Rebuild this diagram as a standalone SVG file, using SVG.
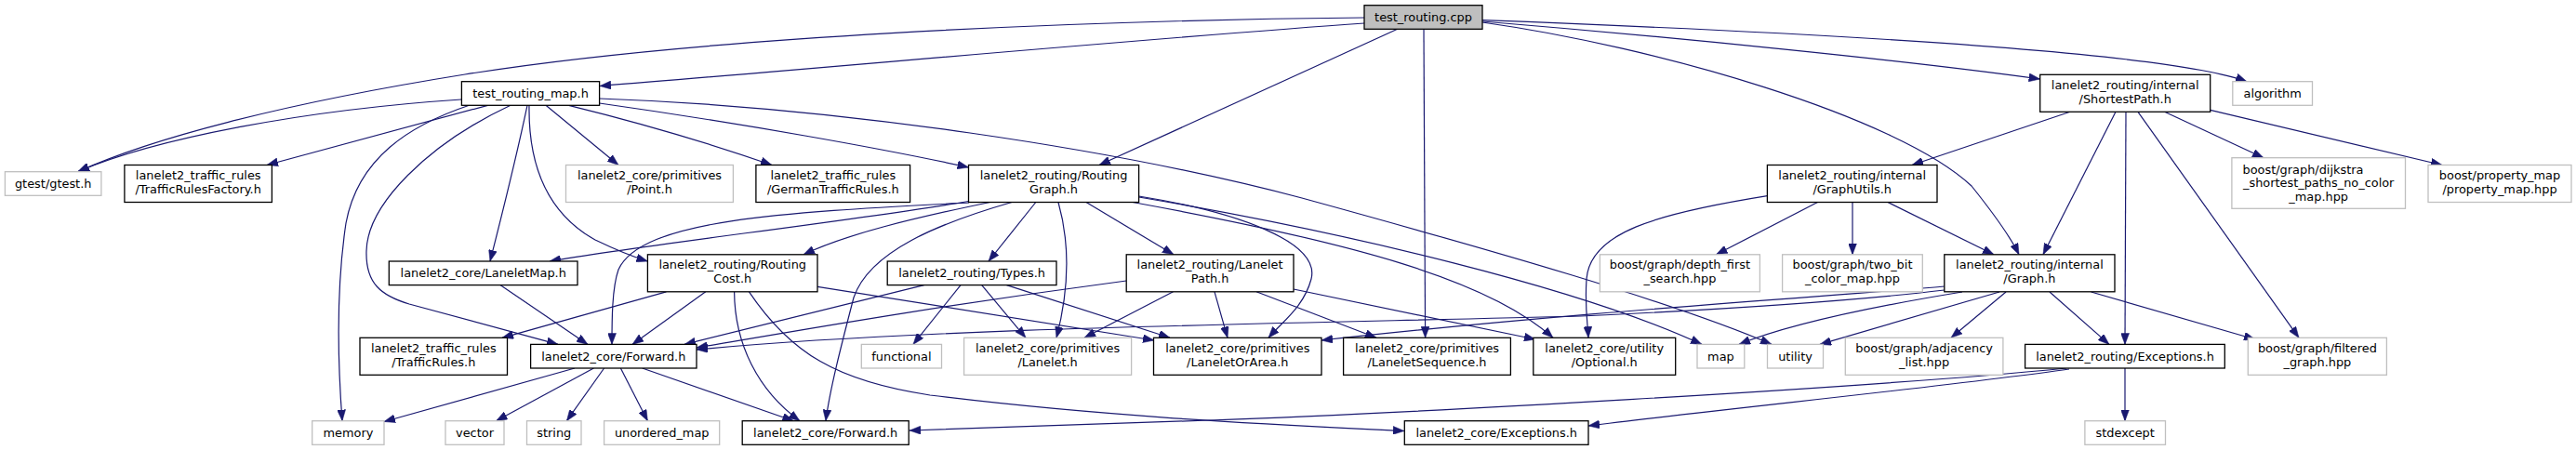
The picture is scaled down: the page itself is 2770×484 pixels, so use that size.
<svg xmlns="http://www.w3.org/2000/svg" width="2770" height="484" viewBox="0 0 2770 484">
<defs>
<marker id="a" markerUnits="userSpaceOnUse" markerWidth="12" markerHeight="9" refX="12" refY="4.5" orient="auto"><path d="M0,0 L12,4.5 L0,9 z" fill="#191970" stroke="#191970" stroke-width="0.5"/></marker>
<style>
.e path{fill:none;stroke:#191970;stroke-width:1.2;marker-end:url(#a)}
.n rect{fill:#fff;stroke:#000;stroke-width:1.3}
.g rect{fill:#fff;stroke:#bfbfbf;stroke-width:1.3}
.r rect{fill:#bfbfbf;stroke:#000;stroke-width:1.3}
text{font-family:"DejaVu Sans","Liberation Sans",sans-serif;font-size:12.9px;text-anchor:middle;fill:#000}
</style>
</defs>
<rect width="2770" height="484" fill="#fff"/>
<g id="edges" class="e">
<path d="M1467,25 C1250,40 900,72 645,92.5"/>
<path d="M1467,19 C1150,22 750,40 500,80 C300,112 160,150 84,184.5"/>
<path d="M496,107 C330,118 170,148 84,184.5"/>
<path d="M524.5,113.3 L287,177.5"/>
<path d="M504.5,113.3 C440,135 385,170 372,240 C360,320 364,400 368,452.7"/>
<path d="M549,113.3 C460,155 395,220 394,270 C393,305 410,318 440,327 L600,370.4"/>
<path d="M567,113.3 C555,170 540,230 527,281"/>
<path d="M569,113.3 C568,180 590,230 640,258 C665,270 680,276 696.4,281"/>
<path d="M587,113.3 L665,177.5"/>
<path d="M611.6,113.3 C700,135 780,160 830,177.5"/>
<path d="M644.6,111 C800,133 950,160 1041.5,180"/>
<path d="M644.6,106 C900,115 1200,160 1400,213 C1600,268 1800,325 1905,370.4"/>
<path d="M1502.7,31.3 L1182,177.5"/>
<path d="M1531,31.3 L1532.6,363.3"/>
<path d="M1594,23 C1800,40 2050,65 2193.7,85"/>
<path d="M1594,21.7 C1950,35 2330,55 2416,87.7"/>
<path d="M1594,24 C1780,50 2040,125 2120,200 C2140,225 2162,255 2171,273.8"/>
<path d="M2226,120.3 L2056,177.5"/>
<path d="M2275,120.3 L2197,273.8"/>
<path d="M2286,120.3 L2285,370.4"/>
<path d="M2299,120.3 L2472,363.3"/>
<path d="M2327.6,120.3 L2434,169.7"/>
<path d="M2376.7,118.3 L2626,177.5"/>
<path d="M1954.5,217.5 L1845.4,273.8"/>
<path d="M1992,217.5 L1992,273.8"/>
<path d="M2030,217.5 L2144,273.8"/>
<path d="M1900.4,210.7 C1780,230 1710,250 1706,300 C1704,330 1707,345 1708,363.3"/>
<path d="M2090.8,312 C1990,324 1870,332 1700,340 C1400,348 1000,352 749,376"/>
<path d="M2090.8,308 C1980,318 1700,335 1421,366"/>
<path d="M2110,314 C2000,332 1920,350 1870,370.4"/>
<path d="M2150,314 L1957,370.4"/>
<path d="M2157,314 L2098,363.3"/>
<path d="M2204,314 L2268,370.4"/>
<path d="M2248.6,314 L2425,365"/>
<path d="M2222,396 C2000,418 1500,445 1300,452 C1150,457 1050,461 978,463"/>
<path d="M2225,397 C2100,415 1850,440 1708,458"/>
<path d="M2285,396 L2285,452.7"/>
<path d="M1041.5,216.5 C900,240 700,262 591,281"/>
<path d="M1042,218 C850,228 690,235 665,290 C658,310 658,345 658,370.4"/>
<path d="M1064.6,217.5 C980,235 910,252 864,273.8"/>
<path d="M1088,217.5 C1010,240 935,270 918,320 C905,370 892,420 888,452.7"/>
<path d="M1113.8,217.5 L1063,281"/>
<path d="M1138,217.5 C1150,260 1150,310 1136,363.3"/>
<path d="M1168,217.5 L1262,273.8"/>
<path d="M1224.6,211 C1330,228 1420,260 1410,300 C1402,330 1380,345 1364,363.3"/>
<path d="M1224.6,212 C1450,250 1700,310 1830,370.4"/>
<path d="M1218,217.5 C1450,260 1600,300 1670,363.3"/>
<path d="M1211.2,302 C1000,330 850,357 749,374"/>
<path d="M1261.5,313.8 L1166,363.3"/>
<path d="M1306,313.8 L1320,363.3"/>
<path d="M1351,313.8 L1480,363.3"/>
<path d="M1391,311 L1651,365"/>
<path d="M993.6,306.6 L736,370.4"/>
<path d="M1033,306.6 L982,370.4"/>
<path d="M1055.7,306.6 L1103,363.3"/>
<path d="M1082.5,306.6 L1258,363.3"/>
<path d="M716.4,313.8 L540,363.3"/>
<path d="M758.8,313.8 L680,370.4"/>
<path d="M789.6,313.8 C790,370 815,420 860,452.7"/>
<path d="M805.5,313.8 C850,380 900,410 1000,425 C1200,450 1400,458 1510,463.5"/>
<path d="M879,308.3 L1241,366"/>
<path d="M537.9,306.6 L632,370.4"/>
<path d="M618,396 L413,453.5"/>
<path d="M638.4,396 L533.5,452.7"/>
<path d="M649.6,396 L609.4,452.7"/>
<path d="M667.4,396 L696.4,452.7"/>
<path d="M690.7,396 L853.4,452.7"/>
</g>
<g id="node-test_routing_cpp" class="r"><rect x="1467" y="5.7" width="127" height="25.6"/><text x="1530.5" y="23.1">test_routing.cpp</text></g>
<g id="node-test_routing_map" class="n"><rect x="496.4" y="87.7" width="148.2" height="25.6"/><text x="570.5" y="105.1">test_routing_map.h</text></g>
<g id="node-ShortestPath" class="n"><rect x="2193.7" y="80.3" width="183" height="40"/><text x="2285.2" y="95.7">lanelet2_routing/internal</text><text x="2285.2" y="110.7">/ShortestPath.h</text></g>
<g id="node-algorithm" class="g"><rect x="2400.8" y="87.7" width="85.7" height="25.6"/><text x="2443.6" y="105.1">algorithm</text></g>
<g id="node-gtest" class="g"><rect x="5.4" y="184.7" width="103.5" height="25.6"/><text x="57.2" y="202.1">gtest/gtest.h</text></g>
<g id="node-TrafficRulesFactory" class="n"><rect x="133.9" y="177.5" width="158.5" height="40"/><text x="213.2" y="192.9">lanelet2_traffic_rules</text><text x="213.2" y="207.9">/TrafficRulesFactory.h</text></g>
<g id="node-Point" class="g"><rect x="608.5" y="177.5" width="179.9" height="40"/><text x="698.5" y="192.9">lanelet2_core/primitives</text><text x="698.5" y="207.9">/Point.h</text></g>
<g id="node-GermanTrafficRules" class="n"><rect x="812.9" y="177.5" width="165.7" height="40"/><text x="895.8" y="192.9">lanelet2_traffic_rules</text><text x="895.8" y="207.9">/GermanTrafficRules.h</text></g>
<g id="node-RoutingGraph" class="n"><rect x="1041.5" y="177.5" width="183.1" height="40"/><text x="1133" y="192.9">lanelet2_routing/Routing</text><text x="1133" y="207.9">Graph.h</text></g>
<g id="node-GraphUtils" class="n"><rect x="1900.4" y="177.5" width="182.6" height="40"/><text x="1991.7" y="192.9">lanelet2_routing/internal</text><text x="1991.7" y="207.9">/GraphUtils.h</text></g>
<g id="node-dijkstra" class="g"><rect x="2399.9" y="169.7" width="186.6" height="54.6"/><text x="2411.5" y="186.9" style="text-anchor:start">boost/graph/dijkstra</text><text x="2493.2" y="201.3">_shortest_paths_no_color</text><text x="2493.2" y="215.6">_map.hpp</text></g>
<g id="node-property_map" class="g"><rect x="2611" y="177.5" width="154" height="40"/><text x="2688" y="192.9">boost/property_map</text><text x="2688" y="207.9">/property_map.hpp</text></g>
<g id="node-LaneletMap" class="n"><rect x="418.3" y="281" width="202.7" height="25.6"/><text x="519.7" y="298.4">lanelet2_core/LaneletMap.h</text></g>
<g id="node-RoutingCost" class="n"><rect x="696.4" y="273.8" width="182.6" height="40"/><text x="787.7" y="289.2">lanelet2_routing/Routing</text><text x="787.7" y="304.2">Cost.h</text></g>
<g id="node-Types" class="n"><rect x="954.2" y="281" width="181.8" height="25.6"/><text x="1045.1" y="298.4">lanelet2_routing/Types.h</text></g>
<g id="node-LaneletPath" class="n"><rect x="1211.2" y="273.8" width="179.8" height="40"/><text x="1301.1" y="289.2">lanelet2_routing/Lanelet</text><text x="1301.1" y="304.2">Path.h</text></g>
<g id="node-depth_first" class="g"><rect x="1720.4" y="273.8" width="172" height="40"/><text x="1806.4" y="289.2">boost/graph/depth_first</text><text x="1806.4" y="304.2">_search.hpp</text></g>
<g id="node-two_bit" class="g"><rect x="1916.6" y="273.8" width="150.7" height="40"/><text x="1992" y="289.2">boost/graph/two_bit</text><text x="1992" y="304.2">_color_map.hpp</text></g>
<g id="node-Graph" class="n"><rect x="2090.8" y="273.8" width="183.2" height="40"/><text x="2182.4" y="289.2">lanelet2_routing/internal</text><text x="2182.4" y="304.2">/Graph.h</text></g>
<g id="node-TrafficRules" class="n"><rect x="387" y="363.3" width="158.5" height="40"/><text x="466.3" y="378.7">lanelet2_traffic_rules</text><text x="466.3" y="393.7">/TrafficRules.h</text></g>
<g id="node-Forward1" class="n"><rect x="570.6" y="370.4" width="178.4" height="25.6"/><text x="659.8" y="387.8">lanelet2_core/Forward.h</text></g>
<g id="node-functional" class="g"><rect x="926.3" y="370.4" width="86.2" height="25.6"/><text x="969.4" y="387.8">functional</text></g>
<g id="node-Lanelet" class="g"><rect x="1036.6" y="363.3" width="180" height="40"/><text x="1126.6" y="378.7">lanelet2_core/primitives</text><text x="1126.6" y="393.7">/Lanelet.h</text></g>
<g id="node-LaneletOrArea" class="n"><rect x="1240.5" y="363.3" width="180.5" height="40"/><text x="1330.8" y="378.7">lanelet2_core/primitives</text><text x="1330.8" y="393.7">/LaneletOrArea.h</text></g>
<g id="node-LaneletSequence" class="n"><rect x="1444.6" y="363.3" width="179.8" height="40"/><text x="1534.5" y="378.7">lanelet2_core/primitives</text><text x="1534.5" y="393.7">/LaneletSequence.h</text></g>
<g id="node-Optional" class="n"><rect x="1648.8" y="363.3" width="152.9" height="40"/><text x="1725.2" y="378.7">lanelet2_core/utility</text><text x="1725.2" y="393.7">/Optional.h</text></g>
<g id="node-map" class="g"><rect x="1825" y="370.4" width="50.8" height="25.6"/><text x="1850.4" y="387.8">map</text></g>
<g id="node-utility" class="g"><rect x="1900.5" y="370.4" width="60" height="25.6"/><text x="1930.5" y="387.8">utility</text></g>
<g id="node-adjacency_list" class="g"><rect x="1984.3" y="363.3" width="169.6" height="40"/><text x="2069.1" y="378.7">boost/graph/adjacency</text><text x="2069.1" y="393.7">_list.hpp</text></g>
<g id="node-routing_Exceptions" class="n"><rect x="2177.6" y="370.4" width="214.7" height="25.6"/><text x="2285" y="387.8">lanelet2_routing/Exceptions.h</text></g>
<g id="node-filtered_graph" class="g"><rect x="2417.3" y="363.3" width="149.1" height="40"/><text x="2491.9" y="378.7">boost/graph/filtered</text><text x="2491.9" y="393.7">_graph.hpp</text></g>
<g id="node-memory" class="g"><rect x="335.7" y="452.7" width="77.3" height="25.6"/><text x="374.4" y="470.1">memory</text></g>
<g id="node-vector" class="g"><rect x="479" y="452.7" width="63" height="25.6"/><text x="510.5" y="470.1">vector</text></g>
<g id="node-string" class="g"><rect x="566.5" y="452.7" width="58.5" height="25.6"/><text x="595.8" y="470.1">string</text></g>
<g id="node-unordered_map" class="g"><rect x="649.6" y="452.7" width="124.1" height="25.6"/><text x="711.7" y="470.1">unordered_map</text></g>
<g id="node-Forward2" class="n"><rect x="798.2" y="452.7" width="179" height="25.6"/><text x="887.7" y="470.1">lanelet2_core/Forward.h</text></g>
<g id="node-core_Exceptions" class="n"><rect x="1510.3" y="452.7" width="197.7" height="25.6"/><text x="1609.2" y="470.1">lanelet2_core/Exceptions.h</text></g>
<g id="node-stdexcept" class="g"><rect x="2241.9" y="452.7" width="86.6" height="25.6"/><text x="2285.2" y="470.1">stdexcept</text></g>
</svg>
